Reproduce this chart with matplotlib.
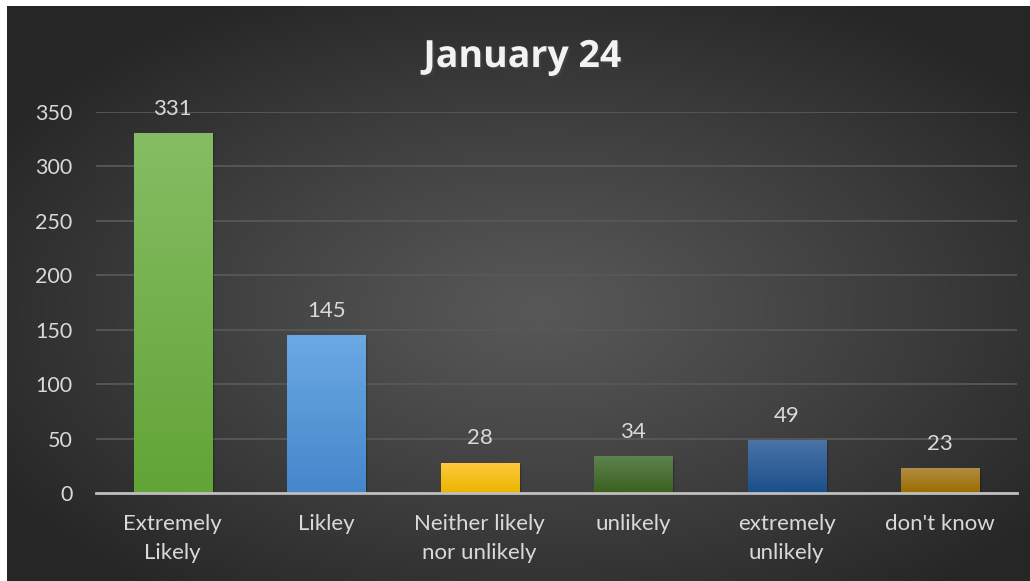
import numpy as np
import matplotlib
matplotlib.use("Agg")
import matplotlib.pyplot as plt
import matplotlib.patheffects as pe
from matplotlib.colors import LinearSegmentedColormap

categories = ["Extremely\nLikely", "Likley", "Neither likely\nnor unlikely",
              "unlikely", "extremely\nunlikely", "don't know"]
values = [331, 145, 28, 34, 49, 23]
yticks = [0, 50, 100, 150, 200, 250, 300, 350]
title = "January 24"

bar_top_colors = ["#86bd64", "#6aa9e3", "#ffc93e", "#5e8450", "#4c74a6", "#b38d45"]
bar_bot_colors = ["#62a436", "#4587cb", "#eab500", "#3a601f", "#1a4f8b", "#9b6c00"]

W, H = 1030, 581
fig = plt.figure(figsize=(W / 100, H / 100), dpi=100)
fig.patch.set_facecolor("white")

# background with radial gradient
bg = fig.add_axes([7 / W, 0, 1 - 7 / W, 1 - 6 / H])
bg.set_axis_off()
ny, nx = 300, 500
yy, xx = np.mgrid[0:1:ny * 1j, 0:1:nx * 1j]
r = np.sqrt(((xx - 0.52) / 0.62) ** 2 + ((yy - 0.47) / 0.62) ** 2)
r = np.clip(r, 0, 1)
c = 0.345 - (0.345 - 0.150) * r ** 1.1
img = np.dstack([c, c, c])
bg.imshow(img, aspect="auto", extent=[0, 1, 0, 1], origin="lower")
bg.set_xlim(0, 1)
bg.set_ylim(0, 1)

ax = fig.add_axes([96 / W, 1 - 493 / H, (1017 - 96) / W, (493 - 112) / H])
ax.patch.set_alpha(0)
x = np.arange(len(categories))
bars = ax.bar(x, values, width=0.51, color="none", zorder=3)
ax.set_xlim(-0.5, len(categories) - 0.5)
ax.set_ylim(0, 350)

for i, b in enumerate(bars):
    x0, y0 = b.get_x(), b.get_y()
    w, h = b.get_width(), b.get_height()
    cmap = LinearSegmentedColormap.from_list("g", [bar_bot_colors[i], bar_top_colors[i]])
    grad = np.linspace(0, 1, 256).reshape(-1, 1)
    # soft shadow
    for k, a in enumerate([0.22, 0.14, 0.08]):
        sh = plt.Rectangle((x0 + 0.006 * (k + 1), y0), w, h - 0.8 * (k + 1),
                           facecolor="black", alpha=a, edgecolor="none", zorder=2)
        ax.add_patch(sh)
    im = ax.imshow(grad, cmap=cmap, aspect="auto", origin="lower",
                   extent=[x0, x0 + w, y0, y0 + h], zorder=3)
    im.set_clip_path(b)
    ax.annotate(str(values[i]), (b.get_x() + w / 2, h), xytext=(0, 13),
                textcoords="offset points", ha="center", va="baseline",
                fontsize=16, color="#d9d9d9", family="Lato")

ax.set_yticks(yticks)
ax.set_xticks(x)
ax.set_xticklabels(categories, fontsize=16, color="#d9d9d9", family="Lato",
                   linespacing=1.6)
for lbl in ax.get_yticklabels():
    lbl.set_fontsize(15.5)
    lbl.set_color("#d9d9d9")
    lbl.set_family("Lato")
ax.tick_params(axis="both", length=0)
ax.tick_params(axis="y", pad=17)
ax.tick_params(axis="x", pad=15)
ax.grid(axis="y", color="#585858", linewidth=1.3, zorder=1)
ax.set_axisbelow(True)
for s in ["top", "right", "left"]:
    ax.spines[s].set_visible(False)
ax.spines["bottom"].set_color("#bfbfbf")
ax.spines["bottom"].set_linewidth(2)
ax.spines["bottom"].set_zorder(4)

fig.text((416 + 629) / 2 / W, 1 - 67 / H, title, ha="center", va="baseline",
         fontsize=27, fontweight="bold", color="#f2f2f2", family="Open Sans",
         path_effects=[pe.withSimplePatchShadow(offset=(1.5, -1.5), alpha=0.5)])

fig.savefig("out.png", dpi=100)
